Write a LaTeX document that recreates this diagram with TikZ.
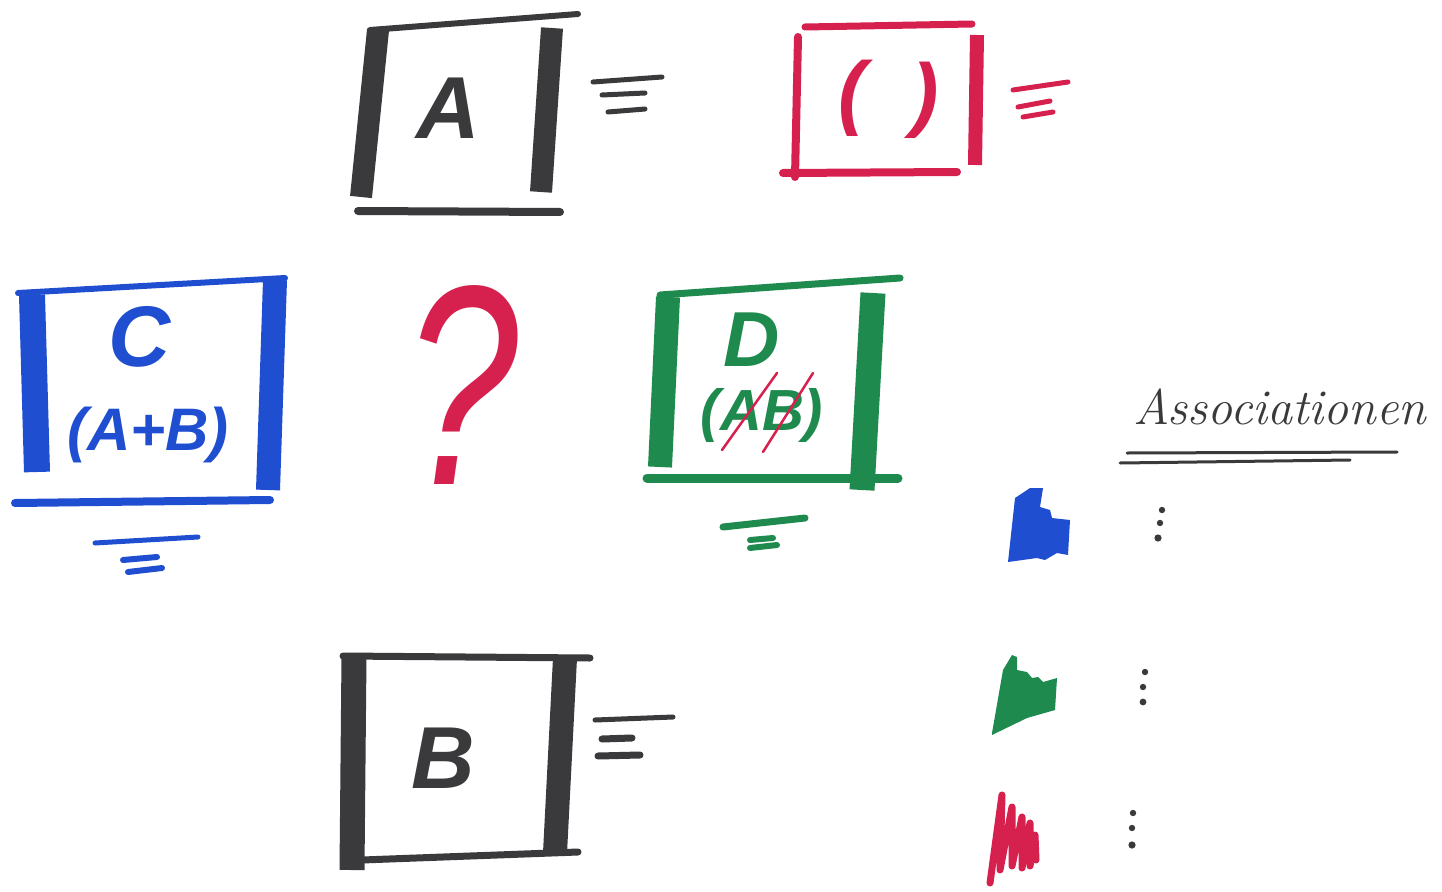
\documentclass[tikz,border=0pt]{standalone}
\usepackage{fontspec}
\newfontfamily\hand{Liberation Sans}
\definecolor{ink}{HTML}{3A3A3C}
\definecolor{mred}{HTML}{D6204E}
\definecolor{mblue}{HTML}{1F4FD0}
\definecolor{mgreen}{HTML}{1E8A4E}
\begin{document}
\begin{tikzpicture}[x=1pt,y=-1pt,line cap=round,line join=round,
  edge/.style={line width=7pt},
  bar/.style={line width=24pt,line cap=butt},
  tick/.style={line width=5pt},
  letter/.style={inner sep=0pt,font=\hand\bfseries\itshape\fontsize{#1}{#1}\selectfont},
  lightletter/.style={inner sep=0pt,font=\hand\itshape\fontsize{#1}{#1}\selectfont}]
\useasboundingbox (0,0) rectangle (1442,891);
% ---- Box A (black)
\draw[ink,edge,line width=6pt] (370,30) -- (578,14);
\draw[ink,bar,line width=22pt] (378,30) -- (361,197);
\draw[ink,bar,line width=22pt] (552,28) -- (541,192);
\draw[ink,edge,line width=8pt] (358,211) -- (560,212);
\draw[ink,tick] (593,82) -- (662,77);
\draw[ink,tick] (602,95) -- (645,93);
\draw[ink,tick] (608,112) -- (645,109);
\node[letter=88,text=ink] (A) at (448,108) {A};
% ---- Box ( ) (red)
\draw[mred,edge] (805,27) -- (972,24);
\draw[mred,edge,line width=8pt] (798,37) -- (795,177);
\draw[mred,bar,line width=14pt] (977,35) -- (975,165);
\draw[mred,edge,line width=8pt] (783,173) -- (957,172);
\draw[mred,tick] (1013,90) -- (1068,82);
\draw[mred,tick] (1018,107) -- (1050,101);
\draw[mred,tick] (1023,117) -- (1053,112);
\node[letter=82,text=mred] (lp) at (852,98) {(};
\node[letter=82,text=mred] (rp) at (925,100) {)};
% ---- Box C (blue)
\draw[mblue,edge,line width=6pt] (18,293) -- (285,278);
\draw[mblue,bar,line width=26pt] (32,295) -- (37,472);
\draw[mblue,bar] (275,280) -- (268,490);
\draw[mblue,edge,line width=8pt] (15,503) -- (270,500);
\draw[mblue,tick] (95,543) -- (198,537);
\draw[mblue,tick,line width=6pt] (123,560) -- (157,557);
\draw[mblue,tick,line width=6pt] (128,572) -- (162,568);
\node[letter=86,text=mblue] (C) at (140,337) {C};
\node[letter=60,text=mblue] (AB1) at (148,435) {(A+B)};
% ---- Question mark (red)
\node[lightletter=285,text=mred,xscale=0.72,transform shape] (q) at (462,385) {?};
% ---- Box D (green)
\draw[mgreen,edge] (660,295) -- (900,278);
\draw[mgreen,bar] (668,297) -- (660,467);
\draw[mgreen,bar,line width=25pt] (873,293) -- (862,490);
\draw[mgreen,edge,line width=9pt] (647,478) -- (898,478);
\draw[mgreen,tick,line width=7pt] (723,527) -- (805,518);
\draw[mgreen,tick,line width=6pt] (750,540) -- (773,538);
\draw[mgreen,tick,line width=6pt] (750,548) -- (777,545);
\node[letter=78,text=mgreen] (D) at (752,340) {D};
\node[letter=58,text=mgreen] (AB2) at (762,415) {(AB)};
\draw[mred,line width=2.5pt] (722,450) -- (777,373);
\draw[mred,line width=2.5pt] (763,452) -- (813,373);
% ---- Box B (black)
\draw[ink,edge] (343,656) -- (590,658);
\draw[ink,bar,line width=25pt] (354,656) -- (352,870);
\draw[ink,bar] (565,658) -- (555,853);
\draw[ink,edge] (362,860) -- (578,852);
\draw[ink,tick] (595,720) -- (673,717);
\draw[ink,tick,line width=7pt] (602,739) -- (632,738);
\draw[ink,tick,line width=7pt] (598,756) -- (640,755);
\node[letter=88,text=ink] (B) at (443,758) {B};
% ---- Associationen
\node[inner sep=0pt,anchor=base,text=ink,font=\itshape\fontsize{50}{50}\selectfont] (assoc) at (1280,424) {Associationen};
\draw[ink,line width=3pt] (1127,453) -- (1397,452);
\draw[ink,line width=3pt] (1120,463) -- (1350,460);
% ---- scribbles
\fill[mblue] (1008,562) -- (1015,498) -- (1030,488) -- (1043,488) -- (1040,507) -- (1050,510) -- (1052,518) -- (1070,520) -- (1068,555) -- (1057,553) -- (1045,560) -- (1037,558) -- cycle;
\fill[mgreen] (992,733) -- (1003,670) -- (1012,655) -- (1017,657) -- (1017,670) -- (1027,672) -- (1032,678) -- (1038,677) -- (1043,682) -- (1057,678) -- (1055,710) -- (1027,718) -- (992,735) -- cycle;
\draw[mred,line width=7pt] (990,883) -- (1002,795) -- (1000,870) -- (1012,807) -- (1012,866) -- (1022,817) -- (1022,868) -- (1030,823) -- (1030,866) -- (1035,835) -- (1036,860);
% ---- dots
\fill[ink] (1162,510) circle (3.2) (1160,523) circle (3.2) (1158,538) circle (3.6);
\fill[ink] (1145,672) circle (3.2) (1143,687) circle (3.2) (1143,702) circle (3.4);
\fill[ink] (1133,813) circle (3.2) (1132,828) circle (3.2) (1132,845) circle (3.6);
\end{tikzpicture}
\end{document}
